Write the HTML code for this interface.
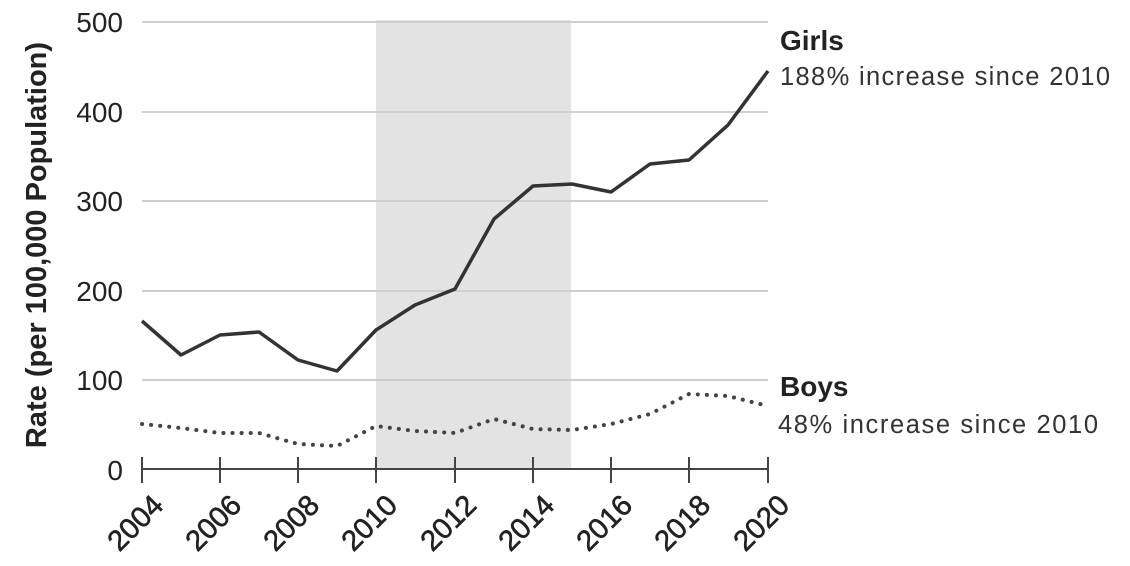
<!DOCTYPE html>
<html><head><style>
html,body{margin:0;padding:0;background:#fff;width:1130px;height:566px;overflow:hidden}
text{font-family:"Liberation Sans",sans-serif}
</style></head><body>
<svg width="1130" height="566" viewBox="0 0 1130 566">
<rect x="376" y="20" width="195" height="449" fill="#e3e3e3"/>
<g stroke="#cfcfcf" stroke-width="2">
<line x1="142" x2="768" y1="22" y2="22"/>
<line x1="142" x2="768" y1="112" y2="112"/>
<line x1="142" x2="768" y1="201" y2="201"/>
<line x1="142" x2="768" y1="291" y2="291"/>
<line x1="142" x2="768" y1="380" y2="380"/>
</g>
<g font-size="28" fill="#222" text-anchor="end">
<text x="123" y="32">500</text>
<text x="123" y="122">400</text>
<text x="123" y="211">300</text>
<text x="123" y="301">200</text>
<text x="123" y="390">100</text>
<text x="123" y="480">0</text>
</g>
<text transform="translate(46,245) rotate(-90)" font-size="29" font-weight="bold" fill="#222" text-anchor="middle">Rate (per 100,000 Population)</text>
<line x1="142" x2="768" y1="469" y2="469" stroke="#444" stroke-width="2"/>
<g stroke="#444" stroke-width="2">
<line x1="142" x2="142" y1="457" y2="483"/><line x1="220" x2="220" y1="457" y2="483"/>
<line x1="298" x2="298" y1="457" y2="483"/><line x1="376" x2="376" y1="457" y2="483"/>
<line x1="455" x2="455" y1="457" y2="483"/><line x1="533" x2="533" y1="457" y2="483"/>
<line x1="611" x2="611" y1="457" y2="483"/><line x1="689" x2="689" y1="457" y2="483"/>
<line x1="768" x2="768" y1="457" y2="483"/>
</g>
<g font-size="29" fill="#222" text-anchor="end" stroke="#222" stroke-width="0.6">
<text transform="translate(165,507) rotate(-45)">2004</text>
<text transform="translate(243,507) rotate(-45)">2006</text>
<text transform="translate(321,507) rotate(-45)">2008</text>
<text transform="translate(399,507) rotate(-45)">2010</text>
<text transform="translate(478,507) rotate(-45)">2012</text>
<text transform="translate(556,507) rotate(-45)">2014</text>
<text transform="translate(634,507) rotate(-45)">2016</text>
<text transform="translate(712,507) rotate(-45)">2018</text>
<text transform="translate(791,507) rotate(-45)">2020</text>
</g>
<polyline fill="none" stroke="#333" stroke-width="3.5" stroke-linejoin="round" points="142,321 181,355 220,335 259,332 298,360 337,371 376,330 415,305 455,289 494,219 533,186 572,184 611,192 650,164 689,160 728,125 768,71"/>
<polyline fill="none" stroke="#444" stroke-width="4" stroke-dasharray="0.1 9" stroke-linecap="round" points="142,424 181,428 220,433 259,433 298,444 337,446 376,426 415,431 455,433 494,419 533,429 572,430 611,424 650,414 689,394 728,396 768,406"/>
<text x="780" y="50" font-size="28" font-weight="bold" fill="#222">Girls</text>
<text x="780" y="85" font-size="25.5" fill="#333" textLength="330">188% increase since 2010</text>
<text x="780" y="396" font-size="28" font-weight="bold" fill="#222">Boys</text>
<text x="778" y="433" font-size="25.5" fill="#333" textLength="320">48% increase since 2010</text>
</svg>
</body></html>
